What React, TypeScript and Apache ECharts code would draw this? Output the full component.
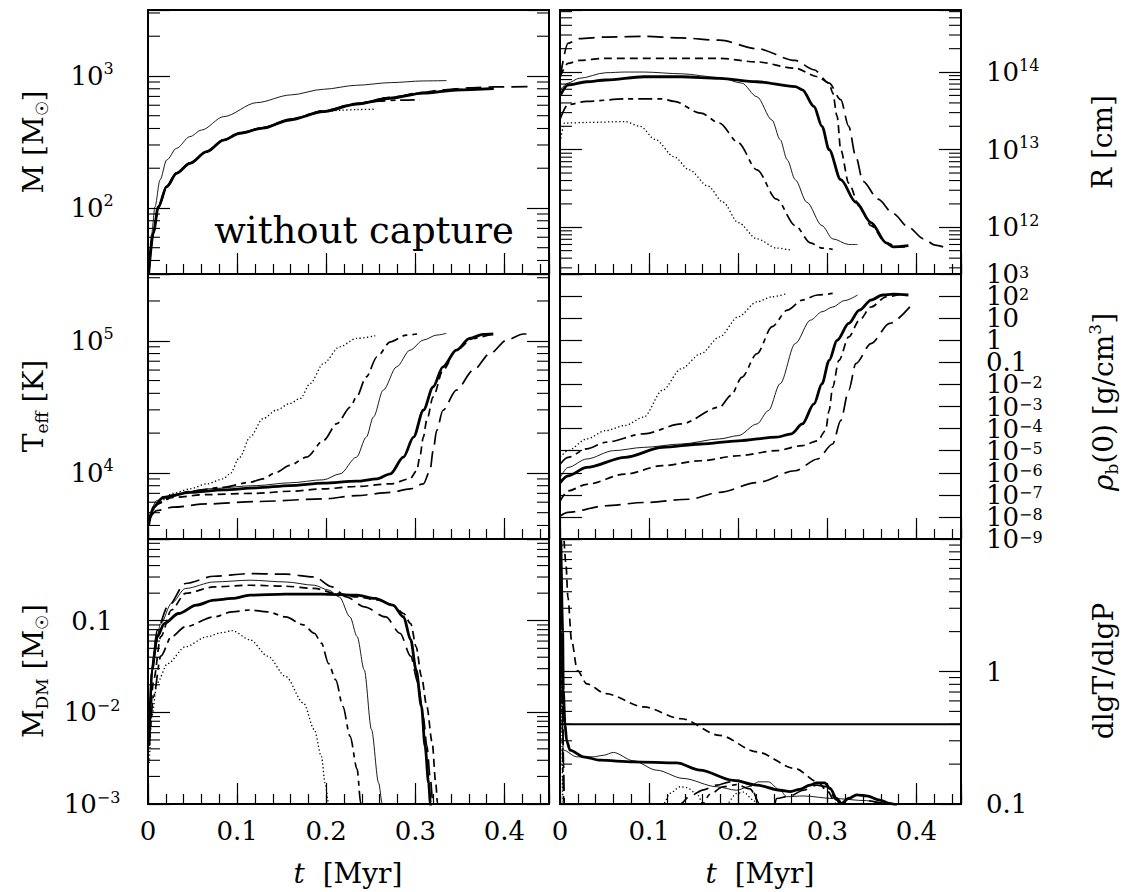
import React, { useEffect, useRef } from 'react';
import * as echarts from 'echarts';

// ---------- axis ranges ----------
const T_MAX = 0.45;
const M_RANGE: [number, number] = [31.6, 3160];
const R_RANGE: [number, number] = [2.5e11, 6.3e14];
const T_RANGE: [number, number] = [3160, 3.2e5];
const RHO_EXP_RANGE: [number, number] = [-9, 3];
const RHO_RANGE: [number, number] = [1e-9, 1e3];
const MDM_RANGE: [number, number] = [1e-3, 0.78];
const DLG_RANGE: [number, number] = [0.1, 10];
const ADIABAT = 0.4;

// ---------- M [Msun] ----------
const M_THICK = [[0.0008, 32], [0.006, 65], [0.0116, 102], [0.021, 145], [0.032, 183], [0.047, 218], [0.066, 267], [0.085, 327], [0.103, 368], [0.129, 402], [0.159, 464], [0.197, 537], [0.234, 611], [0.272, 678], [0.309, 740], [0.346, 783], [0.388, 801]];
const M_THIN = [[0.0005, 32], [0.0041, 64], [0.0078, 102], [0.0135, 163], [0.021, 231], [0.032, 283], [0.047, 347], [0.06, 389], [0.085, 492], [0.122, 628], [0.16, 718], [0.197, 793], [0.234, 850], [0.272, 890], [0.309, 917], [0.335, 922]];
const M_DOT = [[0.0008, 32], [0.006, 64], [0.0116, 101], [0.021, 144], [0.032, 182], [0.047, 217], [0.066, 266], [0.085, 325], [0.103, 366], [0.129, 400], [0.159, 462], [0.197, 535], [0.215, 550], [0.235, 557], [0.255, 560]];
const M_DASHDOT = [[0.0008, 32], [0.006, 66], [0.0116, 103], [0.021, 146], [0.032, 184], [0.047, 219], [0.066, 268], [0.085, 328], [0.103, 369], [0.129, 404], [0.159, 466], [0.197, 540], [0.234, 612], [0.26, 645], [0.28, 655], [0.305, 660]];
const M_SHORT = [[0.0008, 32], [0.006, 64], [0.0116, 101], [0.021, 146], [0.032, 184], [0.047, 219], [0.066, 268], [0.085, 329], [0.103, 370], [0.129, 405], [0.159, 468], [0.197, 542], [0.234, 616], [0.272, 684], [0.309, 745], [0.346, 788], [0.388, 806]];
const M_LONG = [[0.0008, 32], [0.006, 65], [0.0116, 102], [0.021, 145], [0.032, 183], [0.047, 218], [0.066, 267], [0.085, 328], [0.103, 370], [0.129, 406], [0.159, 470], [0.197, 545], [0.234, 620], [0.272, 690], [0.309, 752], [0.33, 785], [0.36, 812], [0.39, 826], [0.433, 830]];

// ---------- R [cm] ----------
const R_THICK = [[0.0003, 5.0e13], [0.0089, 6.8e13], [0.03, 7.5e13], [0.0514, 7.9e13], [0.094, 8.7e13], [0.136, 8.7e13], [0.179, 8.3e13], [0.221, 7.5e13], [0.264, 6.5e13], [0.272, 5.9e13], [0.285, 3.6e13], [0.294, 2.0e13], [0.302, 1.0e13], [0.315, 4.1e12], [0.332, 2.1e12], [0.349, 1.15e12], [0.366, 6.3e11], [0.374, 5.6e11], [0.391, 5.8e11]];
const R_THIN = [[0.0003, 5.9e13], [0.0089, 7.2e13], [0.0216, 8.3e13], [0.0514, 9.8e13], [0.0727, 1.0e14], [0.094, 1.0e14], [0.136, 9.5e13], [0.179, 8.5e13], [0.204, 7.2e13], [0.221, 4.8e13], [0.238, 2.4e13], [0.247, 1.35e13], [0.255, 7.4e12], [0.264, 4.1e12], [0.277, 2.1e12], [0.294, 1.05e12], [0.306, 7.1e11], [0.324, 6.0e11], [0.334, 6.0e11]];
const R_DOT = [[0.0003, 1.26e13], [0.005, 2.2e13], [0.03, 2.24e13], [0.073, 2.3e13], [0.09, 2.0e13], [0.107, 1.35e13], [0.128, 8.1e12], [0.145, 5.5e12], [0.166, 3.4e12], [0.183, 2.1e12], [0.2, 1.15e12], [0.221, 7.1e11], [0.243, 5.4e11], [0.258, 5.1e11]];
const R_DASHDOT = [[0.0003, 2.5e13], [0.0089, 3.8e13], [0.03, 4.2e13], [0.073, 4.5e13], [0.115, 4.5e13], [0.128, 4.2e13], [0.158, 2.95e13], [0.179, 2.2e13], [0.2, 1.23e13], [0.221, 5.5e12], [0.243, 2.3e12], [0.264, 1.05e12], [0.281, 6.3e11], [0.294, 5.4e11], [0.306, 5.2e11]];
const R_SHORT = [[0.0003, 8.7e13], [0.0089, 1.29e14], [0.0216, 1.41e14], [0.05, 1.5e14], [0.179, 1.5e14], [0.221, 1.35e14], [0.264, 1.12e14], [0.289, 8.7e13], [0.302, 7.2e13], [0.306, 5.4e13], [0.311, 2.7e13], [0.315, 1.0e13], [0.324, 3.7e12], [0.336, 1.86e12], [0.349, 1.05e12], [0.366, 6.3e11], [0.379, 5.6e11], [0.391, 5.6e11]];
const R_LONG = [[0.0003, 8.7e13], [0.0089, 2.34e14], [0.0216, 2.69e14], [0.0514, 2.82e14], [0.094, 2.88e14], [0.136, 2.75e14], [0.179, 2.57e14], [0.221, 2.0e14], [0.264, 1.41e14], [0.285, 1.07e14], [0.302, 7.2e13], [0.315, 4.4e13], [0.324, 2.0e13], [0.332, 8.1e12], [0.34, 3.9e12], [0.357, 2.3e12], [0.374, 1.5e12], [0.391, 1.0e12], [0.408, 7.1e11], [0.421, 5.9e11], [0.43, 5.6e11]];

// ---------- Teff [K] ----------
const T_THICK = [[0.0005, 3980], [0.0063, 5500], [0.017, 6530], [0.047, 7130], [0.085, 7450], [0.122, 7710], [0.159, 8020], [0.197, 8360], [0.234, 8650], [0.257, 9020], [0.272, 9840], [0.2866, 13150], [0.298, 18660], [0.309, 29800], [0.32, 44800], [0.331, 63500], [0.346, 84900], [0.361, 104200], [0.376, 111700], [0.3875, 112500]];
const T_THIN = [[0.0015, 4610], [0.0098, 6170], [0.028, 6850], [0.066, 7570], [0.122, 8020], [0.159, 8410], [0.197, 8870], [0.2155, 9840], [0.234, 13150], [0.245, 18660], [0.253, 26500], [0.264, 42300], [0.279, 63500], [0.294, 84900], [0.309, 101200], [0.324, 110400], [0.335, 113800]];
const T_DOT = [[0.0015, 4100], [0.0098, 5820], [0.0284, 7010], [0.047, 7570], [0.066, 8260], [0.0845, 9020], [0.092, 9840], [0.103, 13150], [0.1145, 18660], [0.129, 25700], [0.144, 29800], [0.159, 33500], [0.171, 36600], [0.182, 47500], [0.197, 67300], [0.215, 89900], [0.234, 104200], [0.255, 109100]];
const T_DASHDOT = [[0.0015, 4360], [0.0098, 5820], [0.0284, 6730], [0.047, 7260], [0.0845, 7780], [0.1145, 8490], [0.129, 9020], [0.144, 10100], [0.159, 11400], [0.178, 13150], [0.197, 17600], [0.212, 23600], [0.227, 31500], [0.234, 37600], [0.245, 53300], [0.257, 75700], [0.272, 98200], [0.29, 110400], [0.302, 112500]];
const T_SHORT = [[0.0015, 4610], [0.0098, 5820], [0.028, 6530], [0.066, 6850], [0.122, 7010], [0.159, 7260], [0.197, 7570], [0.234, 7890], [0.272, 8260], [0.294, 9020], [0.3016, 10400], [0.305, 13150], [0.309, 18660], [0.3128, 25000], [0.32, 37600], [0.331, 59800], [0.346, 84900], [0.365, 104200], [0.384, 111700]];
const T_LONG = [[0.0015, 4480], [0.0098, 5180], [0.028, 5500], [0.066, 5820], [0.122, 6070], [0.197, 6350], [0.234, 6730], [0.272, 7130], [0.294, 7570], [0.309, 8260], [0.3165, 10400], [0.32, 14800], [0.324, 21000], [0.331, 29800], [0.346, 42300], [0.365, 59800], [0.384, 80200], [0.4026, 101200], [0.421, 112500], [0.4325, 112500]];

// ---------- rho_b(0) [g/cm^3] ----------
const RHO_THICK = [[0.0003, 3.6e-7], [0.0089, 7.2e-7], [0.03, 1.74e-6], [0.073, 5.0e-6], [0.115, 1.41e-5], [0.158, 2.0e-5], [0.2, 2.8e-5], [0.243, 4.1e-5], [0.2597, 5.8e-5], [0.272, 1.62e-4], [0.285, 1.32e-3], [0.294, 1.07e-2], [0.302, 0.123], [0.311, 1.0], [0.324, 5.8], [0.336, 23], [0.349, 66], [0.362, 112], [0.374, 123], [0.391, 112]];
const RHO_THIN = [[0.0003, 6.2e-7], [0.0089, 1.74e-6], [0.03, 4.2e-6], [0.06, 1.0e-5], [0.094, 1.41e-5], [0.136, 2.0e-5], [0.179, 3.4e-5], [0.2, 4.8e-5], [0.221, 1.62e-4], [0.234, 6.6e-4], [0.247, 1.07e-2], [0.264, 0.71], [0.281, 8.1], [0.294, 19.5], [0.306, 32], [0.319, 62], [0.334, 112]];
const RHO_DOT = [[0.0003, 5.0e-6], [0.0089, 1.0e-5], [0.03, 3.4e-5], [0.0514, 8.1e-5], [0.073, 1.38e-4], [0.094, 3.3e-4], [0.115, 5.4e-3], [0.136, 5.1e-2], [0.158, 0.245], [0.179, 1.41], [0.2, 11.5], [0.221, 55], [0.238, 93], [0.255, 132]];
const RHO_DASHDOT = [[0.0003, 2.5e-6], [0.0089, 5.0e-6], [0.03, 1.2e-5], [0.0514, 2.4e-5], [0.094, 5.8e-5], [0.136, 1.62e-4], [0.179, 9.3e-4], [0.192, 3.2e-3], [0.204, 2.1e-2], [0.221, 0.245], [0.238, 4.1], [0.255, 23], [0.272, 66], [0.289, 112], [0.306, 132]];
const RHO_SHORT = [[0.0003, 5.4e-8], [0.0089, 1.5e-7], [0.03, 3.0e-7], [0.073, 8.7e-7], [0.115, 2.1e-6], [0.158, 3.5e-6], [0.2, 5.9e-6], [0.243, 1.0e-5], [0.272, 1.7e-5], [0.289, 2.8e-5], [0.298, 8.1e-5], [0.302, 6.6e-4], [0.306, 7.6e-3], [0.313, 0.123], [0.324, 1.41], [0.336, 8.1], [0.349, 32], [0.366, 93], [0.383, 123]];
const RHO_LONG = [[0.0003, 1.1e-8], [0.0089, 1.6e-8], [0.0514, 3.2e-8], [0.094, 4.5e-8], [0.145, 6.3e-8], [0.179, 1.3e-7], [0.221, 3.6e-7], [0.264, 1.23e-6], [0.289, 4.2e-6], [0.306, 2.0e-5], [0.315, 2.3e-4], [0.324, 5.4e-3], [0.332, 8.7e-2], [0.349, 0.71], [0.37, 5.8], [0.396, 47]];

// ---------- M_DM [Msun] ----------
const MDM_THICK = [[0.0015, 5.5e-3], [0.0043, 2.9e-2], [0.0103, 6.7e-2], [0.0183, 9.3e-2], [0.0343, 0.12], [0.0543, 0.148], [0.074, 0.168], [0.0944, 0.175], [0.1145, 0.19], [0.1545, 0.195], [0.1946, 0.195], [0.2347, 0.19], [0.2548, 0.175], [0.2748, 0.148], [0.2868, 0.11], [0.2948, 6.2e-2], [0.3009, 2.9e-2], [0.3069, 1.16e-2], [0.3109, 4.3e-3], [0.3149, 1.7e-3], [0.3169, 1.02e-3], [0.318, 8e-4]];
const MDM_THIN = [[0.0015, 6.5e-3], [0.0063, 4.1e-2], [0.0143, 9.3e-2], [0.0263, 0.155], [0.042, 0.225], [0.074, 0.265], [0.1145, 0.277], [0.1545, 0.265], [0.1866, 0.244], [0.2027, 0.216], [0.2147, 0.182], [0.2267, 0.11], [0.2347, 6.7e-2], [0.2427, 2.9e-2], [0.2508, 6.5e-3], [0.2588, 1.7e-3], [0.2628, 1.02e-3], [0.264, 8e-4]];
const MDM_DOT = [[0.0015, 2.8e-3], [0.0043, 9.1e-3], [0.0103, 2.1e-2], [0.022, 3.4e-2], [0.042, 5.2e-2], [0.0664, 6.7e-2], [0.0824, 7.4e-2], [0.0944, 7.8e-2], [0.1145, 6.2e-2], [0.1345, 4.1e-2], [0.1545, 2.46e-2], [0.1746, 1.26e-2], [0.1866, 6.5e-3], [0.1946, 3.3e-3], [0.1987, 1.7e-3], [0.2027, 1.02e-3], [0.204, 8e-4]];
const MDM_DASHDOT = [[0.0015, 4.3e-3], [0.0063, 1.5e-2], [0.0143, 4.1e-2], [0.0263, 6.7e-2], [0.042, 8.6e-2], [0.074, 0.11], [0.0944, 0.125], [0.1145, 0.131], [0.1345, 0.125], [0.1545, 0.11], [0.1746, 9.0e-2], [0.1866, 7.3e-2], [0.1946, 5.7e-2], [0.2027, 3.4e-2], [0.2107, 2.26e-2], [0.2187, 1.16e-2], [0.2267, 5.5e-3], [0.2347, 2.4e-3], [0.2387, 1.02e-3], [0.24, 8e-4]];
const MDM_SHORT = [[0.0015, 4.7e-3], [0.0063, 2.26e-2], [0.0143, 6.7e-2], [0.0263, 0.131], [0.042, 0.199], [0.074, 0.234], [0.1145, 0.244], [0.1545, 0.238], [0.1866, 0.225], [0.2107, 0.199], [0.2347, 0.182], [0.2588, 0.168], [0.2748, 0.148], [0.2868, 0.12], [0.2948, 9.3e-2], [0.3009, 5.2e-2], [0.3069, 2.46e-2], [0.3129, 1.16e-2], [0.3189, 4.7e-3], [0.3229, 1.7e-3], [0.3249, 1.02e-3], [0.326, 8e-4]];
const MDM_LONG = [[0.0015, 5.5e-3], [0.0043, 2.9e-2], [0.0103, 7.9e-2], [0.022, 0.142], [0.042, 0.255], [0.074, 0.306], [0.1145, 0.327], [0.1545, 0.322], [0.1866, 0.301], [0.2066, 0.234], [0.2227, 0.182], [0.2427, 0.142], [0.2668, 0.11], [0.2828, 7.3e-2], [0.2948, 4.1e-2], [0.3029, 2.1e-2], [0.3089, 9.1e-3], [0.3129, 4.3e-3], [0.3169, 1.86e-3], [0.3197, 1.02e-3], [0.321, 8e-4]];

// ---------- dlgT/dlgP ----------
const DLG_THICK = [[0.001, 9.8], [0.003, 2.0], [0.0037, 0.72], [0.0056, 0.4], [0.0075, 0.3], [0.0112, 0.255], [0.0262, 0.227], [0.0449, 0.214], [0.0823, 0.208], [0.131, 0.204], [0.157, 0.18], [0.1945, 0.151], [0.2207, 0.139], [0.247, 0.127], [0.258, 0.124], [0.269, 0.129], [0.2806, 0.139], [0.288, 0.1445], [0.297, 0.1445], [0.303, 0.131], [0.3105, 0.11], [0.316, 0.101], [0.3236, 0.11], [0.333, 0.117], [0.344, 0.115], [0.359, 0.107], [0.37, 0.101], [0.378, 0.097]];
const DLG_THIN = [[0.0005, 9], [0.0015, 1.5], [0.0025, 0.45], [0.0037, 0.255], [0.0187, 0.227], [0.0374, 0.227], [0.0486, 0.233], [0.0599, 0.245], [0.0823, 0.212], [0.1085, 0.18], [0.138, 0.156], [0.176, 0.135], [0.198, 0.127], [0.2133, 0.136], [0.2226, 0.147], [0.2338, 0.147], [0.247, 0.127], [0.2544, 0.1135], [0.273, 0.115], [0.3068, 0.11], [0.344, 0.106], [0.363, 0.1], [0.37, 0.097]];
const DLG_DOT = [[0.0005, 6], [0.002, 0.4], [0.003, 0.12], [0.0035, 0.08], [0.11, 0.08], [0.116, 0.1], [0.1235, 0.1205], [0.1347, 0.135], [0.142, 0.133], [0.153, 0.1205], [0.161, 0.1], [0.17, 0.08], [0.18, 0.08], [0.187, 0.1], [0.198, 0.12], [0.206, 0.123], [0.217, 0.107], [0.222, 0.098], [0.23, 0.08]];
const DLG_DASHDOT = [[0.0005, 9], [0.002, 0.8], [0.0035, 0.15], [0.0045, 0.08], [0.15, 0.08], [0.16, 0.1], [0.168, 0.118], [0.183, 0.135], [0.198, 0.14], [0.213, 0.13], [0.2245, 0.1], [0.23, 0.08]];
const DLG_SHORT = [[0.0046, 9.7], [0.0067, 6.45], [0.0089, 3.62], [0.013, 1.71], [0.0195, 1.02], [0.03, 0.807], [0.0514, 0.68], [0.094, 0.54], [0.136, 0.44], [0.179, 0.33], [0.221, 0.247], [0.264, 0.185], [0.289, 0.147], [0.3, 0.125], [0.31, 0.1], [0.315, 0.09]];
const DLG_LONG = [[0.0005, 9], [0.0025, 1.0], [0.004, 0.2], [0.005, 0.08], [0.13, 0.08], [0.1347, 0.1], [0.146, 0.115], [0.161, 0.128], [0.176, 0.139], [0.191, 0.147], [0.2, 0.151], [0.213, 0.14], [0.224, 0.1], [0.23, 0.08], [0.238, 0.08], [0.243, 0.11], [0.258, 0.115], [0.273, 0.127], [0.288, 0.139], [0.299, 0.135], [0.3105, 0.107], [0.316, 0.095], [0.335, 0.095], [0.344, 0.106], [0.37, 0.1], [0.38, 0.09]];

// ---------- styles ----------
const FONT = '"DejaVu Serif", "Liberation Serif", serif';
const STYLE: Record<string, { width: number; type: any }> = {
  thick: { width: 2.8, type: 'solid' },
  thin: { width: 0.9, type: 'solid' },
  dot: { width: 1.3, type: [1.3, 2.4] },
  dashdot: { width: 1.7, type: [14, 5, 5, 5] },
  short: { width: 1.7, type: [8, 5] },
  long: { width: 1.7, type: [16, 7] },
};

type Panel = {
  row: number; col: number; range: [number, number]; rho?: boolean; hideAbove?: number;
  curves: Record<string, number[][]>;
};

const PANELS: Panel[] = [
  { row: 0, col: 0, range: M_RANGE, curves: { long: M_LONG, short: M_SHORT, dashdot: M_DASHDOT, dot: M_DOT, thin: M_THIN, thick: M_THICK } },
  { row: 0, col: 1, range: R_RANGE, curves: { long: R_LONG, short: R_SHORT, dashdot: R_DASHDOT, dot: R_DOT, thin: R_THIN, thick: R_THICK } },
  { row: 1, col: 0, range: T_RANGE, curves: { long: T_LONG, short: T_SHORT, dashdot: T_DASHDOT, dot: T_DOT, thin: T_THIN, thick: T_THICK } },
  { row: 1, col: 1, range: RHO_RANGE, rho: true, curves: { long: RHO_LONG, short: RHO_SHORT, dashdot: RHO_DASHDOT, dot: RHO_DOT, thin: RHO_THIN, thick: RHO_THICK } },
  { row: 2, col: 0, range: MDM_RANGE, curves: { long: MDM_LONG, short: MDM_SHORT, dashdot: MDM_DASHDOT, dot: MDM_DOT, thin: MDM_THIN, thick: MDM_THICK } },
  { row: 2, col: 1, range: DLG_RANGE, hideAbove: 0, curves: { long: DLG_LONG, short: DLG_SHORT, dashdot: DLG_DASHDOT, dot: DLG_DOT, thin: DLG_THIN, thick: DLG_THICK } },
];

const GRID_LEFT = [148, 560];
const GRID_TOP = [10, 274, 539];
const GRID_H = [264, 265, 265];
const GRID_W = 401;

const RICH = {
  b: { fontSize: 26, lineHeight: 30, fontFamily: FONT, color: '#000' },
  s: { fontSize: 16, lineHeight: 14, fontFamily: FONT, color: '#000', verticalAlign: 'top' },
};
// the density axis labels sit one decade (22 px) apart, as tightly as in the reference
const RICH_RHO = {
  b: { fontSize: 26, lineHeight: 20, fontFamily: FONT, color: '#000' },
  s: { fontSize: 16, lineHeight: 6, fontFamily: FONT, color: '#000', verticalAlign: 'top' },
};

function powLabel(e: number): string {
  if (e === 0) return '{b|1}';
  if (e === 1) return '{b|10}';
  if (e === -1) return '{b|0.1}';
  return `{b|10}{s|${e < 0 ? '\u2212' + -e : e}}`;
}

function logFormatter(hideAbove?: number) {
  return (v: number) => {
    const l = Math.log10(v);
    const e = Math.round(l);
    if (Math.abs(l - e) > 1e-6) return '';
    if (hideAbove !== undefined && e > hideAbove) return '';
    return powLabel(e);
  };
}

function minorValues(lo: number, hi: number): number[] {
  const out: number[] = [];
  for (let e = Math.floor(Math.log10(lo)); e <= Math.ceil(Math.log10(hi)); e++) {
    for (let k = 2; k <= 9; k++) {
      const v = k * Math.pow(10, e);
      if (v > lo * 1.0001 && v < hi * 0.9999) out.push(v);
    }
  }
  return out;
}

const TICK_STYLE = { color: '#000', width: 1.2 };

function buildOption() {
  const grid: any[] = [];
  const xAxis: any[] = [];
  const yAxis: any[] = [];
  const series: any[] = [];

  PANELS.forEach((p, i) => {
    grid.push({
      left: GRID_LEFT[p.col], top: GRID_TOP[p.row], width: GRID_W, height: GRID_H[p.row],
      show: true, borderColor: '#000', borderWidth: 2, backgroundColor: 'transparent',
      outerBoundsMode: 'none', containLabel: false,
    });
    // minor x ticks
    xAxis.push({
      type: 'value', gridIndex: i, position: 'bottom', min: 0, max: T_MAX, interval: 0.02,
      axisLine: { show: false, onZero: false },
      axisTick: { show: true, inside: true, length: 10, lineStyle: TICK_STYLE },
      axisLabel: { show: false }, splitLine: { show: false },
    });
    const xIdx = xAxis.length;
    xAxis.push({
      type: 'value', gridIndex: i, position: 'bottom', min: 0, max: T_MAX, interval: 0.1,
      axisLine: { show: false, onZero: false },
      axisTick: { show: true, inside: true, length: 21, lineStyle: TICK_STYLE },
      axisLabel: {
        show: p.row === 2, margin: 14, fontSize: 26, fontFamily: FONT, color: '#000',
        formatter: (v: number) => {
          const k = Math.round(v * 10);
          if (Math.abs(v * 10 - k) > 1e-6 || k > 4) return '';
          return k === 0 ? '0' : (k / 10).toFixed(1);
        },
      },
      splitLine: { show: false },
    });

    let dataY: number;
    if (p.rho) {
      dataY = yAxis.length;
      yAxis.push({ type: 'log', logBase: 10, gridIndex: i, min: p.range[0], max: p.range[1], show: false });
      const common = {
        type: 'value', gridIndex: i, min: RHO_EXP_RANGE[0], max: RHO_EXP_RANGE[1], interval: 1,
        axisLine: { show: false, onZero: false },
        axisTick: { show: true, inside: true, length: 22, lineStyle: TICK_STYLE },
        splitLine: { show: false },
      };
      yAxis.push({ ...common, position: 'left', axisLabel: { show: false } });
      // inner decades 10^-8 .. 10^2
      yAxis.push({
        ...common, position: 'right',
        axisLabel: {
          show: true, margin: 25, align: 'left', rich: RICH_RHO, hideOverlap: false,
          showMinLabel: false, showMaxLabel: false,
          formatter: (v: number) => powLabel(Math.round(v)),
        },
      });
      // end decades 10^-9 and 10^3
      yAxis.push({
        type: 'value', gridIndex: i, position: 'right',
        min: RHO_EXP_RANGE[0], max: RHO_EXP_RANGE[1], interval: RHO_EXP_RANGE[1] - RHO_EXP_RANGE[0],
        axisLine: { show: false, onZero: false }, axisTick: { show: false }, splitLine: { show: false },
        axisLabel: {
          show: true, margin: 25, align: 'left', rich: RICH_RHO, showMinLabel: true, showMaxLabel: true,
          formatter: (v: number) => powLabel(Math.round(v)),
        },
      });
    } else {
      const common = {
        type: 'log', logBase: 10, gridIndex: i, min: p.range[0], max: p.range[1],
        axisLine: { show: false, onZero: false },
        axisTick: { show: true, inside: true, length: 22, lineStyle: TICK_STYLE },
        minorTick: { show: false }, splitLine: { show: false },
      };
      dataY = yAxis.length;
      yAxis.push({
        ...common, position: 'left',
        axisLabel: p.col === 0
          ? { show: true, margin: 56, align: 'center', rich: RICH, showMinLabel: true, showMaxLabel: true, formatter: logFormatter(p.hideAbove) }
          : { show: false },
      });
      yAxis.push({
        ...common, position: 'right',
        axisLabel: p.col === 1
          ? { show: true, margin: 25, align: 'left', rich: RICH, showMinLabel: true, showMaxLabel: true, formatter: logFormatter(p.hideAbove) }
          : { show: false },
      });
      // logarithmic minor ticks (2..9 per decade), both sides
      series.push({
        type: 'custom', xAxisIndex: xIdx, yAxisIndex: dataY, silent: true, clip: false, z: 4,
        data: minorValues(p.range[0], p.range[1]).map((v) => [0, v]),
        renderItem: (_params: any, api: any) => {
          const v = api.value(1);
          const a = api.coord([0, v]);
          const b = api.coord([T_MAX, v]);
          return {
            type: 'group',
            children: [
              { type: 'line', shape: { x1: a[0], y1: a[1], x2: a[0] + 12, y2: a[1] }, style: { stroke: '#000', lineWidth: 1.1 } },
              { type: 'line', shape: { x1: b[0] - 12, y1: b[1], x2: b[0], y2: b[1] }, style: { stroke: '#000', lineWidth: 1.1 } },
            ],
          };
        },
      });
    }

    Object.keys(p.curves).forEach((k) => {
      const st = STYLE[k];
      series.push({
        type: 'line', xAxisIndex: xIdx, yAxisIndex: dataY, data: p.curves[k],
        showSymbol: false, symbol: 'none', silent: true, smooth: 0.3, smoothMonotone: 'x',
        lineStyle: { color: '#000', width: st.width, type: st.type, cap: 'butt', join: 'round' },
        z: 3,
      });
    });

    if (p.row === 2 && p.col === 1) {
      series.push({
        type: 'line', xAxisIndex: xIdx, yAxisIndex: dataY,
        data: [[0, ADIABAT], [T_MAX, ADIABAT]],
        showSymbol: false, symbol: 'none', silent: true,
        lineStyle: { color: '#000', width: 2, type: 'solid' }, z: 3,
      });
    }
  });

  const TRICH = {
    n: { fontSize: 28, lineHeight: 34, fontFamily: FONT, color: '#000' },
    i: { fontSize: 28, lineHeight: 34, fontFamily: FONT, color: '#000', fontStyle: 'italic' },
    sub: { fontSize: 17, lineHeight: 12, fontFamily: FONT, color: '#000', verticalAlign: 'bottom' },
    sup: { fontSize: 17, lineHeight: 14, fontFamily: FONT, color: '#000', verticalAlign: 'top' },
  };
  const titles = [
    { x: 33, y: 142, r: Math.PI / 2, text: '{n|M [M}{sub|\u2609}{n|]}' },
    { x: 1102, y: 142, r: Math.PI / 2, text: '{n|R [cm]}' },
    { x: 33, y: 406, r: Math.PI / 2, text: '{n|T}{sub|eff}{n| [K]}' },
    { x: 1103, y: 402, r: Math.PI / 2, text: '{i|\u03C1}{sub|b}{n|(0) [g/cm}{sup|3}{n|]}' },
    { x: 33, y: 671, r: Math.PI / 2, text: '{n|M}{sub|DM}{n| [M}{sub|\u2609}{n|]}' },
    { x: 1103, y: 671, r: Math.PI / 2, text: '{n|dlgT/dlgP}' },
    { x: 348, y: 873, r: 0, text: '{i|t}{n|  [Myr]}' },
    { x: 760, y: 873, r: 0, text: '{i|t}{n|  [Myr]}' },
  ];
  const graphic: any[] = titles.map((t) => ({
    type: 'text', x: t.x, y: t.y, rotation: t.r, silent: true,
    style: { text: t.text, rich: TRICH, align: 'center', verticalAlign: 'middle', fontFamily: FONT, fontSize: 28, fill: '#000' },
  }));
  graphic.push({
    type: 'text', x: 364, y: 230, silent: true,
    style: { text: 'without capture', align: 'center', verticalAlign: 'middle', fontFamily: FONT, fontSize: 37, fill: '#000' },
  });

  return {
    animation: false,
    backgroundColor: '#fff',
    textStyle: { fontFamily: FONT },
    grid, xAxis, yAxis, series, graphic,
  };
}

export default function App() {
  const ref = useRef<HTMLDivElement>(null);
  useEffect(() => {
    if (!ref.current) return;
    const chart = echarts.init(ref.current, null, { renderer: 'svg' });
    chart.setOption(buildOption() as any);
    return () => chart.dispose();
  }, []);
  return (
    <div
      ref={ref}
      style={{ position: 'absolute', left: 0, top: 0, width: 1124, height: 892, background: '#fff' }}
    />
  );
}
